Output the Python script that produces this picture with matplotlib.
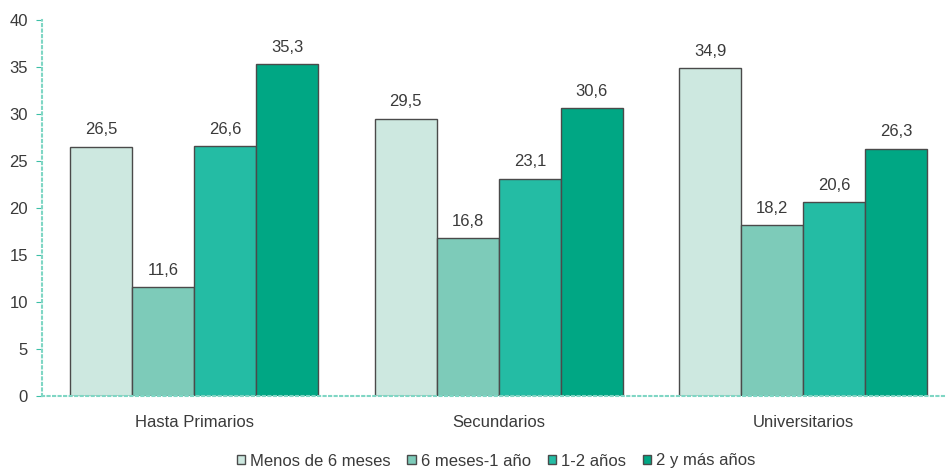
import numpy as np
import matplotlib.pyplot as plt

plt.rcParams['font.family'] = ['Liberation Sans', 'DejaVu Sans']

categorias = ['Hasta Primarios', 'Secundarios', 'Universitarios']
series = ['Menos de 6 meses', '6 meses-1 año', '1-2 años', '2 y más años']
valores = [
    [26.5, 29.5, 34.9],
    [11.6, 16.8, 18.2],
    [26.6, 23.1, 20.6],
    [35.3, 30.6, 26.3],
]
colores = ['#cde8e0', '#7dcbb9', '#24bca4', '#00a784']

fig = plt.figure(figsize=(9.47, 4.70), dpi=100)
ax = fig.add_axes([42/947, 1-396/470, 903/947, 376/470])

x = np.arange(len(categorias))
ancho = 0.2036
for i, (nombre, vals) in enumerate(zip(series, valores)):
    pos = x + (i - 1.5)*ancho
    ax.bar(pos, vals, ancho, color=colores[i], edgecolor='#4a4a4a',
           linewidth=1.0, label=nombre, zorder=2)
    for p, v in zip(pos, vals):
        ax.text(p, v + 1.0, f'{v:.1f}'.replace('.', ','), ha='center',
                va='bottom', fontsize=12, color='#3a3a3a')

ax.set_xlim(-0.5, 2.465)
ax.set_ylim(0, 40)
ax.set_yticks(range(0, 41, 5))
ax.set_xticks(x)
ax.set_xticklabels(categorias, fontsize=12, color='#3a3a3a')
ax.tick_params(axis='x', length=0, pad=14)
ax.tick_params(axis='y', length=4, color='#3cbfa6', labelsize=12,
               labelcolor='#3a3a3a', direction='out', pad=6)
for s in ['top', 'right']:
    ax.spines[s].set_visible(False)
for s in ['left', 'bottom']:
    ax.spines[s].set_color('#7fd6c4')
    ax.spines[s].set_linestyle(':')
    ax.spines[s].set_linewidth(1.5)

ax.legend(loc='center', bbox_to_anchor=(496/947, 1-461/470),
          bbox_transform=fig.transFigure,
          ncol=4, frameon=False, fontsize=12, handlelength=0.5,
          handleheight=0.5, handletextpad=0.3, columnspacing=1.0,
          labelcolor='#3a3a3a')

fig.savefig('out.png', dpi=100)
